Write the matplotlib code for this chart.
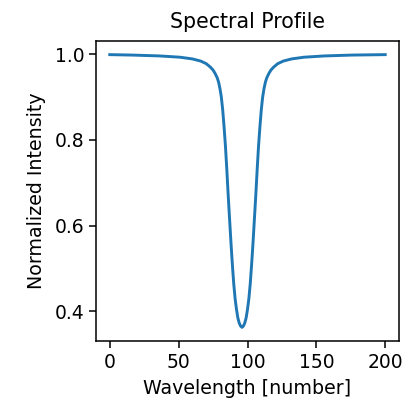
import matplotlib
matplotlib.use("Agg")
import matplotlib.pyplot as plt

wavelength = [0, 16, 36, 51, 60, 66, 70, 73, 75, 76.5, 78, 79, 80, 81, 82,
              83, 84, 85, 86, 87, 88, 89, 90, 91, 92, 93, 94, 95, 96, 97, 98,
              99, 100, 101, 102, 103, 104, 105, 106, 107, 108, 109, 110, 111,
              112, 113, 114, 115.5, 117, 119, 122, 126, 132, 141, 156, 176,
              200]
intensity = [0.999, 0.998, 0.996, 0.993, 0.989, 0.984, 0.978, 0.970, 0.963,
             0.955, 0.945, 0.935, 0.92, 0.90, 0.87, 0.83, 0.785, 0.73, 0.67,
             0.615, 0.56, 0.51, 0.465, 0.43, 0.405, 0.385, 0.373, 0.366,
             0.363, 0.366, 0.373, 0.385, 0.405, 0.43, 0.465, 0.51, 0.56,
             0.615, 0.67, 0.73, 0.785, 0.83, 0.87, 0.90, 0.92, 0.935, 0.945,
             0.955, 0.963, 0.970, 0.978, 0.984, 0.989, 0.993, 0.996, 0.998,
             0.999]
x_ticks = [0, 50, 100, 150, 200]
y_ticks = [0.4, 0.6, 0.8, 1.0]

W, H = 407, 398
fig = plt.figure(figsize=(W / 100, H / 100), dpi=100)
ax = fig.add_axes([96 / W, 1 - 341 / H, (399 - 96) / W, (341 - 41) / H])
ax.plot(wavelength, intensity, color="#1f77b4", linewidth=2.1)
ax.set_xticks(x_ticks)
ax.set_yticks(y_ticks)
ax.set_yticklabels([f"{v:.1f}" for v in y_ticks])
ax.tick_params(labelsize=13.5, length=5, width=1.1)
for s in ax.spines.values():
    s.set_linewidth(1.1)
ax.set_title("Spectral Profile", fontsize=14.8, pad=9)
ax.set_xlabel("Wavelength [number]", fontsize=13.7, labelpad=5)
ax.set_ylabel("Normalized Intensity", fontsize=13.7, labelpad=6)
fig.savefig("out.png", dpi=100)
